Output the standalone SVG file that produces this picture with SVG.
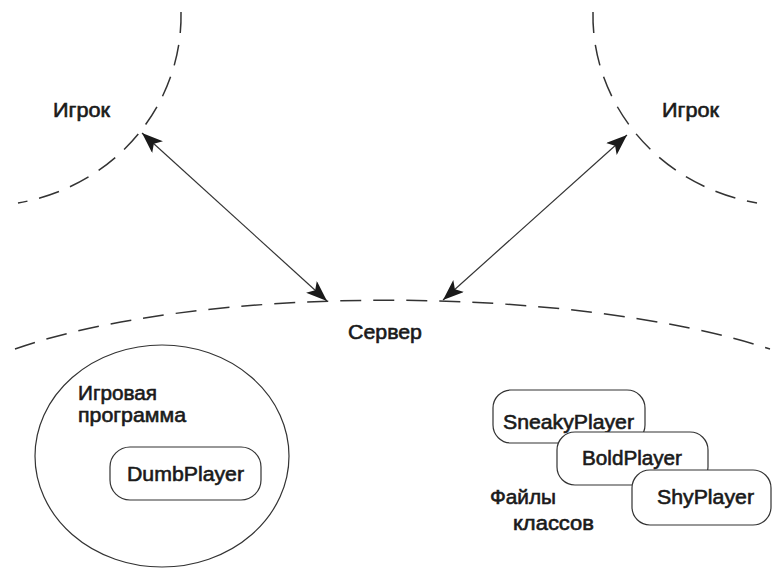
<svg xmlns="http://www.w3.org/2000/svg" width="773" height="569" viewBox="0 0 773 569">
  <defs>
    <marker id="head" markerUnits="userSpaceOnUse" markerWidth="24" markerHeight="18" refX="21" refY="8" orient="auto-start-reverse">
      <path d="M0,0 L21,8 L0,16 L5,8 Z" fill="#1a1a1a"/>
    </marker>
    <style>
      .zone { fill: none; stroke: #333; stroke-width: 1.5; stroke-dasharray: 21 12; }
      .link { fill: none; stroke: #333; stroke-width: 1.2; marker-start: url(#head); marker-end: url(#head); }
      .box { fill: #fff; stroke: #333; stroke-width: 1.2; }
      .lbl { font-family: "Liberation Sans", Arial, sans-serif; font-size: 20.5px; fill: #1a1a1a; stroke: #1a1a1a; stroke-width: 0.6; }
    </style>
  </defs>
  <rect width="773" height="569" fill="#fff"/>

  <!-- boundaries of the three processes -->
  <g id="zones">
    <path class="zone" d="M181,12 C183,100 120,185 18,203"/>
    <path class="zone" d="M593,12 C591,100 655,185 757,203"/>
    <path class="zone" d="M15,349 C200,284 570,284 770,349"/>
  </g>

  <g id="connectors">
    <line class="link" x1="142" y1="133" x2="327" y2="301"/>
    <line class="link" x1="627" y1="135" x2="443" y2="300"/>
  </g>

  <g id="player-left">
    <text class="lbl" x="53" y="117" textLength="57" lengthAdjust="spacingAndGlyphs">Игрок</text>
  </g>
  <g id="player-right">
    <text class="lbl" x="662" y="117" textLength="57" lengthAdjust="spacingAndGlyphs">Игрок</text>
  </g>
  <g id="server">
    <text class="lbl" x="348" y="339" textLength="74" lengthAdjust="spacingAndGlyphs">Сервер</text>
  </g>

  <g id="game-program">
    <ellipse cx="162" cy="456" rx="127" ry="111" fill="none" stroke="#333" stroke-width="1.2"/>
    <text class="lbl" x="78" y="400" textLength="79" lengthAdjust="spacingAndGlyphs">Игровая</text>
    <text class="lbl" x="78" y="422" textLength="108" lengthAdjust="spacingAndGlyphs">программа</text>
  </g>
  <g id="dumb-player">
    <rect class="box" x="110" y="447" width="151" height="53" rx="20"/>
    <text class="lbl" x="127" y="481" textLength="117" lengthAdjust="spacingAndGlyphs">DumbPlayer</text>
  </g>

  <g id="class-files">
    <text class="lbl" x="490" y="504" textLength="66" lengthAdjust="spacingAndGlyphs">Файлы</text>
    <text class="lbl" x="513" y="530" textLength="81" lengthAdjust="spacingAndGlyphs">классов</text>
  </g>
  <g id="sneaky-player">
    <rect class="box" x="493" y="390" width="152" height="53" rx="18"/>
    <text class="lbl" x="503" y="429" textLength="131" lengthAdjust="spacingAndGlyphs">SneakyPlayer</text>
  </g>
  <g id="bold-player">
    <rect class="box" x="557" y="432" width="151" height="53" rx="18"/>
    <text class="lbl" x="582" y="465" textLength="100" lengthAdjust="spacingAndGlyphs">BoldPlayer</text>
  </g>
  <g id="shy-player">
    <rect class="box" x="632" y="470" width="139" height="55" rx="18"/>
    <text class="lbl" x="657" y="504" textLength="97" lengthAdjust="spacingAndGlyphs">ShyPlayer</text>
  </g>
</svg>
